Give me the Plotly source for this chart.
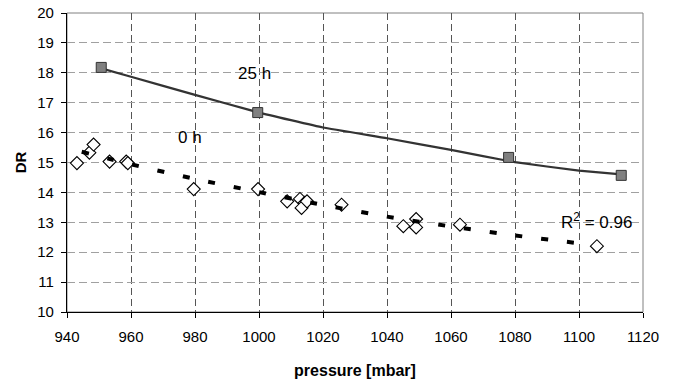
import plotly.graph_objects as go

# 0 h measurements (open diamonds)
p0 = [943.1, 947.0, 948.3, 953.3, 958.5, 959.0, 979.6, 999.7, 1008.8, 1012.8, 1014.3,
      1013.3, 1015.0, 1025.8, 1045.1, 1049.1, 1049.1, 1062.8, 1105.6]
dr0 = [14.98, 15.33, 15.60, 15.03, 15.03, 14.98, 14.11, 14.11, 13.70, 13.78, 13.65,
       13.48, 13.70, 13.59, 12.87, 13.11, 12.83, 12.92, 12.20]

# 0 h trendline
p0_trend = [944.6, 960, 980, 1000, 1020, 1040, 1060, 1080, 1101.4]
dr0_trend = [15.36, 14.94, 14.45, 14.01, 13.58, 13.19, 12.86, 12.56, 12.28]

# 25 h measurements (grey squares)
p25 = [950.7, 999.6, 1078.0, 1113.2]
dr25 = [18.18, 16.67, 15.17, 14.57]

# 25 h curve
p25_line = [950.7, 960, 980, 1000, 1020, 1040, 1060, 1080, 1100, 1113.2]
dr25_line = [18.15, 17.87, 17.26, 16.67, 16.17, 15.81, 15.42, 15.01, 14.73, 14.60]

x_ticks = [940, 960, 980, 1000, 1020, 1040, 1060, 1080, 1100, 1120]
y_ticks = [10, 11, 12, 13, 14, 15, 16, 17, 18, 19, 20]

FONT = "Liberation Sans, Arial, sans-serif"

fig = go.Figure()
fig.add_trace(go.Scatter(x=p25_line, y=dr25_line, mode="lines",
                         line=dict(color="#333333", width=2.2, shape="spline", smoothing=0.3),
                         hoverinfo="skip", showlegend=False))
fig.add_trace(go.Scatter(x=p0, y=dr0, mode="markers",
                         marker=dict(symbol="diamond", size=10, color="white", line=dict(color="black", width=1.1)),
                         showlegend=False))
fig.add_trace(go.Scatter(x=p0_trend, y=dr0_trend, mode="lines",
                         line=dict(color="black", width=4, dash="7px,19px", shape="spline", smoothing=0.6),
                         showlegend=False))
fig.add_trace(go.Scatter(x=p25, y=dr25, mode="markers",
                         marker=dict(symbol="square", size=10, color="#808080", line=dict(color="#333333", width=1)),
                         showlegend=False))

fig.add_annotation(x=998.7, y=17.98, text="25 h", showarrow=False, font=dict(family=FONT, size=17, color="black"))
fig.add_annotation(x=978.5, y=15.83, text="0 h", showarrow=False, font=dict(family=FONT, size=17, color="black"))
fig.add_annotation(x=1105.5, y=13.03, text="R<sup>2</sup> = 0.96", showarrow=False,
                   font=dict(family=FONT, size=17, color="black"))

# top/right border
fig.add_shape(type="rect", xref="paper", yref="paper", x0=0, y0=0, x1=1, y1=1,
              line=dict(color="#808080", width=1), layer="below")

fig.update_layout(
    width=679, height=383,
    margin=dict(l=67, r=36, t=13, b=71),
    paper_bgcolor="white", plot_bgcolor="white",
    font=dict(family=FONT, size=15, color="black"),
    xaxis=dict(range=[940, 1120], tickvals=x_ticks, ticktext=[str(v) for v in x_ticks],
               showgrid=True, gridcolor="#555555", griddash="7px,4px", gridwidth=1,
               showline=True, linecolor="black", linewidth=1.3, ticks="outside", ticklen=5,
               tickcolor="black", zeroline=False, ticklabelstandoff=6, automargin=False,
               title=dict(text="<b>pressure [mbar]</b>", font=dict(size=16), standoff=20)),
    yaxis=dict(range=[10, 20], tickvals=y_ticks, ticktext=[str(v) for v in y_ticks],
               showgrid=True, gridcolor="#a0a0a0", griddash="8px,4px", gridwidth=1,
               showline=True, linecolor="black", linewidth=1.3, ticks="outside", ticklen=5,
               tickcolor="black", zeroline=False, ticklabelstandoff=4, automargin=False,
               title=dict(text="<b>DR</b>", font=dict(size=15), standoff=6)),
)

fig.write_html("out.html")
